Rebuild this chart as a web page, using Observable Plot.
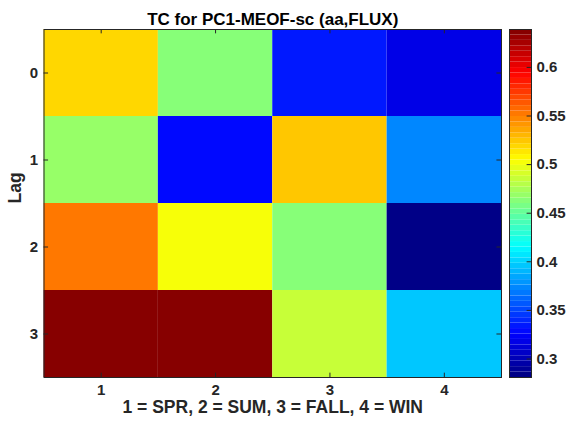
<!DOCTYPE html>
<html>
<head>
<meta charset="utf-8">
<script src="https://cdn.jsdelivr.net/npm/d3@7"></script>
<script src="https://cdn.jsdelivr.net/npm/@observablehq/plot@0.6"></script>
<style>
  html, body { margin: 0; padding: 0; background: #ffffff; }
  #chart { position: relative; width: 578px; height: 427px; }
  #chart svg { position: absolute; top: 0; }
  #chart svg text { font-weight: bold; }
  #chart svg g[aria-label$="tick label"] { font-size: 15px !important; font-weight: bold; fill: #262626; }
  #chart svg g[aria-label$="tick label"] text { font-size: 15px !important; }
</style>
</head>
<body>
<div id="chart"></div>
<script>
// ---- data ----
const seasons = [1, 2, 3, 4];
const lags = [0, 1, 2, 3];
const lag0 = [0.520, 0.460, 0.332, 0.320];
const lag1 = [0.469, 0.327, 0.527, 0.371];
const lag2 = [0.550, 0.500, 0.461, 0.281];
const lag3 = [0.639, 0.635, 0.487, 0.397];
const colorTicks = [0.3, 0.35, 0.4, 0.45, 0.5, 0.55, 0.6];
const titleText = "TC for PC1-MEOF-sc (aa,FLUX)";
const xLabelText = "1 = SPR, 2 = SUM, 3 = FALL, 4 = WIN";
const yLabelText = "Lag";

const rowsByLag = [lag0, lag1, lag2, lag3];
const data = lags.flatMap((lag, i) =>
  rowsByLag[i].map((v, j) => ({lag, season: seasons[j], value: v})));
const ext = d3.extent(data, d => d.value);

// MATLAB-like jet colormap, 64 levels
function jet(t) {
  const i = Math.min(63, Math.max(0, Math.floor(t * 64)));
  const x = (i + 0.5) / 64;
  const c = v => Math.max(0, Math.min(1, v));
  const r = c(1.5 - Math.abs(4 * x - 3));
  const g = c(1.5 - Math.abs(4 * x - 2));
  const b = c(1.5 - Math.abs(4 * x - 1));
  return d3.rgb(r * 255, g * 255, b * 255).formatHex();
}
const colorScale = {type: "linear", domain: ext, interpolate: jet};

const ink = "#262626";
const font = "'Liberation Sans', Arial, sans-serif";

const W = 578, H = 427;
const mTop = 29, mBottom = 50, mLeft = 43.5, mRight = 77;

const main = Plot.plot({
  width: W, height: H,
  marginTop: mTop, marginBottom: mBottom, marginLeft: mLeft, marginRight: mRight,
  style: {fontFamily: font, fontSize: "15px", fontWeight: "bold", color: ink, background: "transparent", overflow: "visible"},
  x: {type: "linear", domain: [0.5, 4.5]},
  y: {type: "linear", domain: [-0.5, 3.5], reverse: true},
  color: colorScale,
  marks: [
    Plot.rect(data, {x1: d => d.season - 0.5, x2: d => d.season + 0.5,
                     y1: d => d.lag - 0.5, y2: d => d.lag + 0.5, fill: "value"}),
    // inward ticks on all four sides
    Plot.ruleX(seasons, {x: d => d, y1: 3.5, y2: 3.45, stroke: ink, strokeWidth: 1}),
    Plot.ruleX(seasons, {x: d => d, y1: -0.5, y2: -0.45, stroke: ink, strokeWidth: 1}),
    Plot.ruleY(lags, {y: d => d, x1: 0.5, x2: 0.54, stroke: ink, strokeWidth: 1}),
    Plot.ruleY(lags, {y: d => d, x1: 4.5, x2: 4.46, stroke: ink, strokeWidth: 1}),
    Plot.frame({stroke: ink, strokeWidth: 1}),
    Plot.axisX({ticks: seasons, tickSize: 0, tickPadding: 7, tickFormat: d => String(d), label: null, fontSize: 15}),
    Plot.axisY({ticks: lags, tickSize: 0, tickPadding: 6, tickFormat: d => String(d), label: null, fontSize: 15}),
    Plot.text([titleText], {frameAnchor: "top", dy: -16.5, fontSize: 17, fontWeight: "bold", fill: "#000"}),
    Plot.text([xLabelText], {frameAnchor: "bottom", dy: 35, fontSize: 17.5, fontWeight: "bold", fill: ink}),
    Plot.text([yLabelText], {frameAnchor: "left", dx: -29, rotate: -90, fontSize: 17.5, fontWeight: "bold", fill: ink})
  ]
});
main.style.left = "0px";

// ---- colorbar ----
const nLevels = 64;
const step = (ext[1] - ext[0]) / nLevels;
const bins = d3.range(nLevels).map(i => ({lo: ext[0] + i * step, hi: ext[0] + (i + 1) * step, mid: ext[0] + (i + 0.5) * step}));

const cbLeft = 500;
const cb = Plot.plot({
  width: W - cbLeft, height: H,
  marginTop: mTop, marginBottom: mBottom, marginLeft: 9, marginRight: W - cbLeft - 31,
  style: {fontFamily: font, fontSize: "15px", fontWeight: "bold", color: ink, background: "transparent", overflow: "visible"},
  x: {type: "linear", domain: [0, 1], axis: null},
  y: {type: "linear", domain: ext},
  color: colorScale,
  marks: [
    Plot.rect(bins, {x1: 0, x2: 1, y1: "lo", y2: "hi", fill: "mid"}),
    Plot.ruleY(colorTicks, {y: d => d, x1: 1, x2: 0.8, stroke: ink, strokeWidth: 1}),
    Plot.frame({stroke: ink, strokeWidth: 1}),
    Plot.axisY({anchor: "right", ticks: colorTicks, tickSize: 0, tickPadding: 5, tickFormat: d => String(d), label: null, fontSize: 15})
  ]
});
cb.style.left = cbLeft + "px";

const chart = document.getElementById("chart");
chart.appendChild(main);
chart.appendChild(cb);
</script>
</body>
</html>
